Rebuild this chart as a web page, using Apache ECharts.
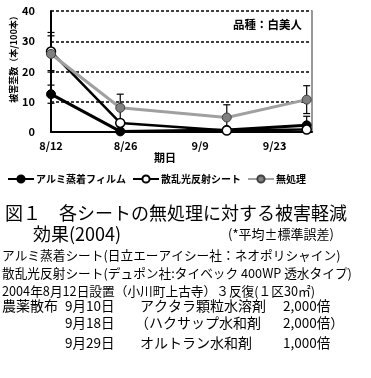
<!DOCTYPE html>
<html><head><meta charset="utf-8">
<script src="https://cdn.jsdelivr.net/npm/echarts@6/dist/echarts.min.js"></script>
<style>html,body{margin:0;padding:0;background:#fff}#c{width:371px;height:378px}</style>
</head><body><div id="c"></div>
<script>
const startDate = '2004-08-12';
const sampleDates = ['2004-08-12', '2004-08-25', '2004-09-14', '2004-09-29'];
const tickLabels = ['8/12', '8/26', '9/9', '9/23'];
const seriesNames = ['アルミ蒸着フィルム', '散乱光反射シート', '無処理'];
const aluminumMean = [12.5, 0.2, 0.7, 2.2];
const aluminumErr = [3.0, 0.3, 0.4, 3.0];
const scatterMean = [26.6, 3.0, 0.5, 0.8];
const scatterErr = [6.3, 1.0, 0.4, 0.5];
const controlMean = [25.8, 8.0, 4.8, 10.7];
const controlErr = [6.0, 4.5, 4.2, 4.6];
const yTicks = [0, 10, 20, 30, 40];
const varietyLabel = '品種：白美人';
const yName = '被害茎数（本/100本）';
const xName = '期日';
const captionLines = [
  '図１　各シートの無処理に対する被害軽減',
  '効果(2004)',
  '(*平均±標準誤差)',
  'アルミ蒸着シート(日立エーアイシー社：ネオポリシャイン)',
  '散乱光反射シート(デュポン社:タイベック 400WP 透水タイプ)',
  '2004年8月12日設置（小川町上古寺）３反復(１区30㎡)'
];
const sprayHeader = '農薬散布';
const sprayDates = ['9月10日', '9月18日', '9月29日'];
const sprayChems = ['アクタラ顆粒水溶剤', '（ハクサップ水和剤', 'オルトラン水和剤'];
const sprayRates = ['2,000倍', '2,000倍）', '1,000倍'];

const dayMs = 864e5;
const t0 = new Date(startDate).getTime();
const days = sampleDates.map(d => (new Date(d).getTime() - t0) / dayMs);
const tickStep = 14;
const xMax = 49;

function pts(means) { return means.map((m, i) => [days[i], m]); }
function errPts(means, errs) { return means.map((m, i) => [days[i], m, errs[i]]); }

function errRender(params, api) {
  const x = api.value(0), m = api.value(1), e = api.value(2);
  const top = api.coord([x, m + e]);
  const bot = api.coord([x, Math.max(0, m - e)]);
  const w = 3.5;
  const st = { stroke: '#000', lineWidth: 1.2 };
  return {
    type: 'group', children: [
      { type: 'line', shape: { x1: top[0], y1: top[1], x2: bot[0], y2: bot[1] }, style: st },
      { type: 'line', shape: { x1: top[0] - w, y1: top[1], x2: top[0] + w, y2: top[1] }, style: st },
      { type: 'line', shape: { x1: bot[0] - w, y1: bot[1], x2: bot[0] + w, y2: bot[1] }, style: st }
    ]
  };
}

const serif = '"Noto Sans CJK JP", sans-serif';
const chartFont = '"Noto Sans CJK JP", "DejaVu Sans", sans-serif';

function txt(text, x, y, size, weight, align) {
  return { type: 'text', x: x, y: y, style: { text: text, x: 0, y: 0, font: (weight || 'normal') + ' ' + size + 'px ' + serif, fill: '#000', textAlign: align || 'left', verticalAlign: 'middle' } };
}

const chart = echarts.init(document.getElementById('c'), null, { renderer: 'canvas' });
chart.setOption({
  animation: false,
  backgroundColor: '#fff',
  grid: { left: 51, right: 59, top: 11, bottom: 246, containLabel: false },
  legend: {
    data: seriesNames, left: 2, top: 169, itemWidth: 26, itemHeight: 9, itemGap: 6,
    textStyle: { fontFamily: chartFont, fontWeight: 'bold', fontSize: 10, color: '#000', padding: [0, 0, 0, -3] }
  },
  xAxis: {
    type: 'value', min: 0, max: xMax, interval: tickStep,
    axisLine: { lineStyle: { color: '#000', width: 2 } },
    axisTick: { show: false },
    splitLine: { show: false },
    axisLabel: {
      margin: 8, color: '#000', fontFamily: chartFont, fontWeight: 'bold', fontSize: 11,
      formatter: v => { const k = v / tickStep; return Number.isInteger(k) && tickLabels[k] ? tickLabels[k] : ''; }
    }
  },
  yAxis: [{
    type: 'value', min: yTicks[0], max: yTicks[yTicks.length - 1], interval: yTicks[1] - yTicks[0],
    axisLine: { show: true, lineStyle: { color: '#000', width: 2 } },
    axisTick: { show: false },
    splitLine: { show: true, lineStyle: { color: '#000', width: 1.6, type: [3, 2] } },
    axisLabel: { margin: 16, color: '#000', fontFamily: chartFont, fontWeight: 'bold', fontSize: 11 }
  }, {
    type: 'value', position: 'right', min: 0, max: 40,
    axisLine: { show: true, lineStyle: { color: '#999', width: 2 } },
    axisTick: { show: false }, axisLabel: { show: false }, splitLine: { show: false }
  }],
  series: [
    { type: 'custom', renderItem: errRender, data: errPts(aluminumMean, aluminumErr), encode: { x: 0, y: 1 }, silent: true, z: 1 },
    { type: 'custom', renderItem: errRender, data: errPts(scatterMean, scatterErr), encode: { x: 0, y: 1 }, silent: true, z: 1 },
    { type: 'custom', renderItem: errRender, data: errPts(controlMean, controlErr), encode: { x: 0, y: 1 }, silent: true, z: 1 },
    {
      name: seriesNames[0], type: 'line', data: pts(aluminumMean), symbol: 'circle', symbolSize: 9, z: 3,
      lineStyle: { color: '#000', width: 3 }, itemStyle: { color: '#000', borderColor: '#000', borderWidth: 1 }
    },
    {
      name: seriesNames[1], type: 'line', data: pts(scatterMean), symbol: 'circle', symbolSize: 9, z: 4,
      lineStyle: { color: '#000', width: 2.5 }, itemStyle: { color: '#fff', borderColor: '#000', borderWidth: 1.5 }
    },
    {
      name: seriesNames[2], type: 'line', data: pts(controlMean), symbol: 'circle', symbolSize: 9, z: 5,
      lineStyle: { color: '#a0a0a0', width: 3 }, itemStyle: { color: '#808080', borderColor: '#404040', borderWidth: 1 }
    }
  ],
  graphic: [
    { type: 'text', x: 302, y: 25, style: { text: varietyLabel, font: 'bold 11.5px ' + chartFont, fill: '#000', textAlign: 'right', verticalAlign: 'middle' } },
    { type: 'text', x: 14, y: 57, rotation: Math.PI / 2, style: { text: yName, font: 'bold 9px ' + chartFont, fill: '#000', textAlign: 'center', verticalAlign: 'middle' } },
    { type: 'text', x: 165, y: 158, style: { text: xName, font: 'bold 11px ' + chartFont, fill: '#000', textAlign: 'center', verticalAlign: 'middle' } },
    txt(captionLines[0], 5, 213, 18),
    txt(captionLines[1], 33, 234, 18),
    txt(captionLines[2], 228, 234, 13),
    txt(captionLines[3], 2, 255, 12.7),
    txt(captionLines[4], 2, 273, 12.7),
    txt(captionLines[5], 2, 291, 12.7),
    txt(sprayHeader, 2, 306, 14),
    txt(sprayDates[0], 65, 306, 13.5),
    txt(sprayChems[0], 140, 306, 14),
    txt(sprayRates[0], 283, 306, 13.5),
    txt(sprayDates[1], 65, 323, 13.5),
    txt(sprayChems[1], 135, 323, 14),
    txt(sprayRates[1], 283, 323, 13.5),
    txt(sprayDates[2], 65, 343, 13.5),
    txt(sprayChems[2], 140, 343, 14),
    txt(sprayRates[2], 283, 343, 13.5)
  ]
});
</script></body></html>
